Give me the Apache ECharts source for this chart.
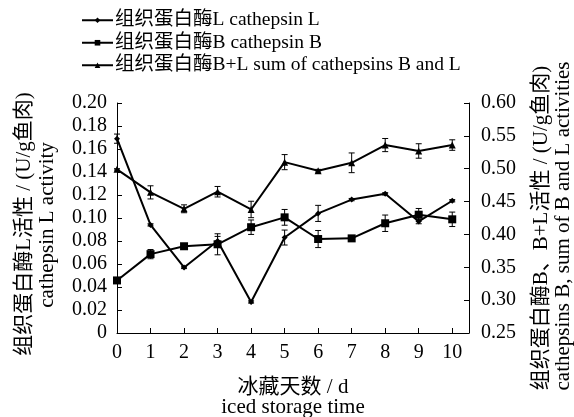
<!DOCTYPE html>
<html>
<head>
<meta charset="utf-8">
<script src="https://cdn.jsdelivr.net/npm/echarts@6/dist/echarts.min.js"></script>
<style>html,body{margin:0;padding:0;background:#fff;}#c{width:574px;height:417px;}</style>
</head>
<body>
<div id="c"></div>
<script>
const days = [0, 1, 2, 3, 4, 5, 6, 7, 8, 9, 10];
const catL    = [0.169, 0.094, 0.057, 0.080, 0.027, 0.083, 0.104, 0.116, 0.121, 0.097, 0.115];
const catLErr = [0.004, 0.001, 0.001, 0.004, 0.001, 0.0065, 0.007, 0.001, 0.001, 0.002, 0.001];
const catB    = [0.330, 0.370, 0.382, 0.385, 0.411, 0.426, 0.393, 0.394, 0.417, 0.430, 0.423];
const catBErr = [0.003, 0.007, 0.002, 0.016, 0.011, 0.012, 0.013, 0.002, 0.0125, 0.0095, 0.011];
const catBL    = [0.499, 0.464, 0.439, 0.465, 0.438, 0.510, 0.497, 0.509, 0.536, 0.527, 0.536];
const catBLErr = [0.001, 0.010, 0.006, 0.008, 0.0125, 0.0115, 0.002, 0.015, 0.010, 0.011, 0.008];
const xTicks = [0, 1, 2, 3, 4, 5, 6, 7, 8, 9, 10];
const names = ['组织蛋白酶L cathepsin L', '组织蛋白酶B cathepsin B', '组织蛋白酶B+L sum of cathepsins B and L'];

const FF = '"Liberation Serif", "Times New Roman", "Noto Sans CJK SC"';
const FS = 20;
const FT = 21;

function errRender(params, api) {
  const x = api.value(0), y = api.value(1), e = api.value(2);
  const hi = api.coord([x, y + e]);
  const lo = api.coord([x, y - e]);
  const w = 3;
  const st = {stroke: '#000', lineWidth: 1};
  return {type: 'group', children: [
    {type: 'line', shape: {x1: hi[0], y1: hi[1], x2: lo[0], y2: lo[1]}, style: st},
    {type: 'line', shape: {x1: hi[0] - w, y1: hi[1], x2: hi[0] + w, y2: hi[1]}, style: st},
    {type: 'line', shape: {x1: lo[0] - w, y1: lo[1], x2: lo[0] + w, y2: lo[1]}, style: st}
  ]};
}
function pairs(v) { return days.map((d, i) => [d, v[i]]); }
function triples(v, e) { return days.map((d, i) => [d, v[i], e[i]]); }

const chart = echarts.init(document.getElementById('c'), null, {renderer: 'canvas'});
const axisCommon = {
  axisLine: {show: true, lineStyle: {color: '#000', width: 1}},
  axisTick: {show: true, inside: true, length: 5, lineStyle: {color: '#000'}},
  splitLine: {show: false}
};
function lineSeries(name, data, symbol, size, yIdx) {
  return {name, type: 'line', yAxisIndex: yIdx, data, symbol, symbolSize: size,
    showSymbol: true, lineStyle: {color: '#000', width: 2}, itemStyle: {color: '#000'},
    z: 3, animation: false};
}
function errSeries(data, yIdx) {
  return {type: 'custom', yAxisIndex: yIdx, data, renderItem: errRender,
    encode: {x: 0, y: 1}, silent: true, z: 4, animation: false};
}
const titleStyle = (text, x, y, rot, fs) => ({
  type: 'text', x, y, rotation: rot,
  style: {text, fontSize: fs, fontFamily: FF, fill: '#000',
    align: 'center', verticalAlign: 'middle', textAlign: 'center', textVerticalAlign: 'middle'}
});
chart.setOption({
  animation: false,
  backgroundColor: '#fff',
  grid: {left: 117, right: 105, top: 103, bottom: 84, containLabel: false},
  legend: {
    data: names, orient: 'vertical', left: 81, top: 9, padding: 0,
    itemWidth: 31, itemHeight: 7, itemGap: 0,
    textStyle: {color: '#000', fontSize: 19.5, fontFamily: FF, lineHeight: 22.5, padding: [0, 0, 0, -3]},
    inactiveColor: '#000'
  },
  xAxis: Object.assign({}, axisCommon, {
    type: 'value', min: 0, max: 10.5, interval: 1,
    axisTick: {show: true, inside: true, length: 5, lineStyle: {color: '#000'}, customValues: xTicks},
    axisLabel: {color: '#000', fontSize: FS, fontFamily: FF, margin: 10, customValues: xTicks,
      formatter: v => (Number.isInteger(v) ? String(v) : '')}
  }),
  yAxis: [
    Object.assign({}, axisCommon, {
      type: 'value', min: 0, max: 0.2, interval: 0.02, position: 'left',
      axisLabel: {color: '#000', fontSize: FS, fontFamily: FF, margin: 10,
        formatter: v => (v === 0 ? '0' : v.toFixed(2))}
    }),
    Object.assign({}, axisCommon, {
      type: 'value', min: 0.25, max: 0.6, interval: 0.05, position: 'right',
      axisLabel: {color: '#000', fontSize: FS, fontFamily: FF, margin: 12,
        formatter: v => v.toFixed(2)}
    })
  ],
  graphic: [
    titleStyle('组织蛋白酶L活性 / (U/g鱼肉)', 24, 224, Math.PI / 2, FT),
    titleStyle('cathepsin L activity', 47, 225, Math.PI / 2, FT),
    titleStyle('组织蛋白酶B、B+L活性 / (U/g鱼肉)', 541, 228, Math.PI / 2, FT),
    titleStyle('cathepsins B, sum of B and L activities', 563, 226, Math.PI / 2, FT),
    titleStyle('冰藏天数 / d', 293, 387, 0, FT),
    titleStyle('iced storage time', 293, 407, 0, FT)
  ],
  series: [
    lineSeries(names[0], pairs(catL), 'diamond', 6, 0),
    lineSeries(names[1], pairs(catB), 'rect', 8, 1),
    lineSeries(names[2], pairs(catBL), 'triangle', 7, 1),
    errSeries(triples(catL, catLErr), 0),
    errSeries(triples(catB, catBErr), 1),
    errSeries(triples(catBL, catBLErr), 1)
  ]
});
</script>
</body>
</html>
